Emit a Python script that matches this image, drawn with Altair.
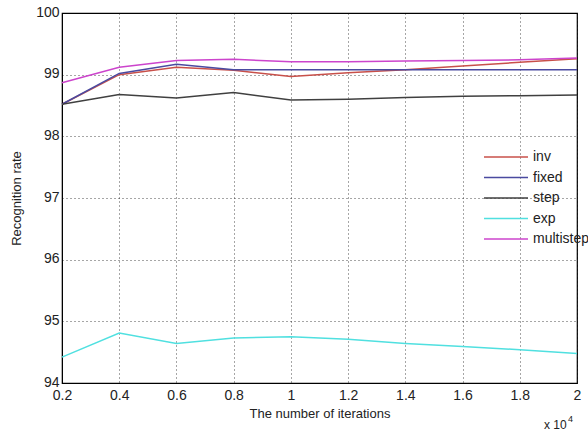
import altair as alt
import pandas as pd

iterations = [0.2, 0.4, 0.6, 0.8, 1.0, 1.2, 1.4, 1.6, 1.8, 2.0]
series_names = ["inv", "fixed", "step", "exp", "multistep"]
inv = [98.52, 99.00, 99.12, 99.07, 98.97, 99.03, 99.08, 99.14, 99.20, 99.26]
fixed = [98.52, 99.02, 99.17, 99.08, 99.08, 99.08, 99.08, 99.08, 99.08, 99.08]
step = [98.52, 98.68, 98.62, 98.71, 98.59, 98.60, 98.63, 98.65, 98.66, 98.67]
exp_ = [94.42, 94.81, 94.64, 94.73, 94.75, 94.71, 94.64, 94.59, 94.54, 94.48]
multistep = [98.87, 99.12, 99.23, 99.25, 99.21, 99.21, 99.22, 99.23, 99.24, 99.27]
colors = ["#c8504a", "#4a4aa0", "#404040", "#50e0e0", "#cc44cc"]
x_ticks = [0.2, 0.4, 0.6, 0.8, 1.0, 1.2, 1.4, 1.6, 1.8, 2.0]
y_ticks = [94, 95, 96, 97, 98, 99, 100]

values = {"inv": inv, "fixed": fixed, "step": step, "exp": exp_, "multistep": multistep}
rows = []
for name in series_names:
    for xv, yv in zip(iterations, values[name]):
        rows.append({"iterations": xv, "rate": yv, "series": name})
df = pd.DataFrame(rows)
leg = pd.DataFrame({"series": series_names})

FONT = "Liberation Sans"
color_scale = alt.Scale(domain=series_names, range=colors)

lines = alt.Chart(df).mark_line(strokeWidth=1.5).encode(
    x=alt.X("iterations:Q",
            scale=alt.Scale(domain=[0.2, 2.0], nice=False, zero=False),
            axis=alt.Axis(values=x_ticks, format="~g", title="The number of iterations",
                          grid=True, ticks=False, labelPadding=5, titlePadding=5,
                          labelFlush=False)),
    y=alt.Y("rate:Q",
            scale=alt.Scale(domain=[94, 100], nice=False, zero=False),
            axis=alt.Axis(values=y_ticks, format="d", title="Recognition rate",
                          grid=True, ticks=False, labelPadding=3, titlePadding=12,
                          labelFlush=False, labelOffset=-1)),
    color=alt.Color("series:N", scale=color_scale, legend=None),
    order=alt.Order("series_order:Q"),
).transform_calculate(
    series_order="indexof(['inv','fixed','step','exp','multistep'], datum.series)"
)

leg_scale = alt.Scale(type="point", domain=series_names, range=[144, 226], padding=0)
leg_rules = alt.Chart(leg).mark_rule(strokeWidth=1.5).encode(
    x=alt.value(422), x2=alt.value(466),
    y=alt.Y("series:N", scale=leg_scale, axis=None, sort=series_names),
    color=alt.Color("series:N", scale=color_scale, legend=None),
)
leg_text = alt.Chart(leg).mark_text(align="left", baseline="middle", font=FONT,
                                    fontSize=14, color="#222").encode(
    x=alt.value(471),
    y=alt.Y("series:N", scale=leg_scale, axis=None, sort=series_names),
    text="series:N",
)

exp_label = alt.Chart(pd.DataFrame({"t": ["x 10"]})).mark_text(
    align="left", baseline="alphabetic", font=FONT, fontSize=12, color="#222"
).encode(x=alt.value(482), y=alt.value(416), text="t:N")
exp_sup = alt.Chart(pd.DataFrame({"t": ["4"]})).mark_text(
    align="left", baseline="alphabetic", font=FONT, fontSize=9, color="#222"
).encode(x=alt.value(506), y=alt.value(409), text="t:N")

chart = alt.layer(lines, leg_rules, leg_text, exp_label, exp_sup).resolve_scale(
    y="independent"
).properties(
    width=515, height=370,
    padding={"left": 62, "top": 13, "right": 11, "bottom": 48},
    autosize="none",
    background="white",
).configure_view(
    stroke="#000", strokeWidth=1.2
).configure_axis(
    labelFont=FONT, titleFont=FONT, labelFontSize=14, titleFontSize=13,
    titleFontWeight="normal", labelColor="#222", titleColor="#222",
    domainColor="#000", tickColor="#000", gridColor="#000",
    gridDash=[1, 3], gridOpacity=0.7, gridWidth=1,
)

chart.save("out.html", embed_options={"renderer": "svg", "actions": False})
